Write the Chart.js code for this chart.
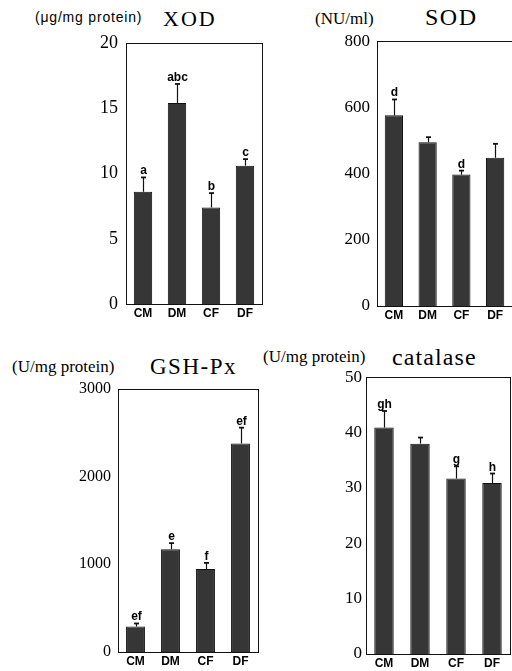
<!DOCTYPE html>
<html lang="en">
<head>
<meta charset="UTF-8">
<title>XOD, SOD, GSH-Px, catalase</title>
<script src="https://cdn.jsdelivr.net/npm/chart.js"></script>
<style>
  html, body { margin: 0; padding: 0; background: #fff; overflow: hidden; }
  body { position: relative; width: 512px; height: 671px; }
  canvas { position: absolute; }
  .lbl { position: absolute; white-space: nowrap; line-height: 1; color: #000; }
  .serif { font-family: "Liberation Serif", "DejaVu Serif", serif; }
  .sans { font-family: "Liberation Sans", Arial, sans-serif; }
</style>
</head>
<body>
  <!-- unit labels and panel titles -->
  <div class="lbl sans"  style="left:35px;top:10px;font-size:14px;letter-spacing:0.8px;">(μg/mg protein)</div>
  <div class="lbl serif" style="left:163px;top:8px;font-size:22px;letter-spacing:2px;">XOD</div>
  <div class="lbl serif" style="left:315px;top:10px;font-size:17px;">(NU/ml)</div>
  <div class="lbl serif" style="left:425px;top:5px;font-size:24px;letter-spacing:1.5px;">SOD</div>
  <div class="lbl serif" style="left:12px;top:358px;font-size:17px;">(U/mg protein)</div>
  <div class="lbl serif" style="left:150px;top:355px;font-size:23px;letter-spacing:1.5px;">GSH-Px</div>
  <div class="lbl serif" style="left:263px;top:348px;font-size:17px;">(U/mg protein)</div>
  <div class="lbl serif" style="left:392px;top:345px;font-size:24px;letter-spacing:1.1px;">catalase</div>

  <canvas id="c-xod"></canvas>
  <canvas id="c-sod"></canvas>
  <canvas id="c-gsh"></canvas>
  <canvas id="c-cat"></canvas>

<script>
  // data (mean, upper error, significance letters)
  const groups   = ['CM', 'DM', 'CF', 'DF'];

  const xodMean  = [8.6, 15.4, 7.4, 10.6];
  const xodErr   = [1.1, 1.45, 1.1, 0.5];
  const xodMarks = ['a', 'abc', 'b', 'c'];
  const xodTicks = [0, 5, 10, 15, 20];

  const sodMean  = [576, 495, 397, 448];
  const sodErr   = [48, 15, 12, 42];
  const sodMarks = ['d', '', 'd', ''];
  const sodTicks = [0, 200, 400, 600, 800];

  const gshMean  = [290, 1170, 945, 2375];
  const gshErr   = [35, 70, 70, 180];
  const gshMarks = ['ef', 'e', 'f', 'ef'];
  const gshTicks = [0, 1000, 2000, 3000];

  const catMean  = [40.9, 38.0, 31.7, 30.9];
  const catErr   = [3.0, 1.1, 2.2, 1.7];
  const catMarks = ['gh', '', 'g', 'h'];
  const catTicks = [0, 10, 20, 30, 40, 50];

  const Y_W = 44, PAD_T = 14, X_H = 18;

  // box, error bars and letters on top of the bars
  function extras(mean, err, marks) {
    return {
      id: 'extras',
      afterDatasetsDraw(chart) {
        const { ctx, chartArea: a, scales: { x, y } } = chart;
        ctx.save();
        ctx.strokeStyle = '#111';
        ctx.lineWidth = 1;
        ctx.strokeRect(Math.round(a.left) + 0.5, Math.round(a.top) + 0.5,
                       Math.round(a.right - a.left), Math.round(a.bottom - a.top));
        ctx.fillStyle = '#000';
        ctx.font = 'bold 12px "Liberation Sans", Arial, sans-serif';
        ctx.textAlign = 'center';
        ctx.textBaseline = 'alphabetic';
        mean.forEach((m, i) => {
          const cx = Math.round(x.getPixelForValue(i)) + 0.5;
          const y0 = y.getPixelForValue(m);
          const y1 = y.getPixelForValue(m + err[i]);
          ctx.lineWidth = 1.2;
          ctx.beginPath();
          ctx.moveTo(cx, y0);
          ctx.lineTo(cx, y1);
          ctx.stroke();
          ctx.lineWidth = 1.8;
          ctx.beginPath();
          ctx.moveTo(cx - 2.5, y1);
          ctx.lineTo(cx + 2.5, y1);
          ctx.stroke();
          if (marks[i]) ctx.fillText(marks[i], cx, y1 - 3);
        });
        ctx.restore();
      }
    };
  }

  function makePanel(p) {
    const cv = document.getElementById(p.id);
    cv.width  = p.right - p.left + Y_W + 2;
    cv.height = p.bottom - p.top + PAD_T + X_H;
    cv.style.left = (p.left - Y_W) + 'px';
    cv.style.top  = (p.top - PAD_T) + 'px';

    return new Chart(cv.getContext('2d'), {
      type: 'bar',
      data: {
        labels: groups,
        datasets: [{
          data: p.mean,
          backgroundColor: '#363636',
          borderColor: '#111',
          borderWidth: 1,
          categoryPercentage: 1,
          barPercentage: 0.54
        }]
      },
      options: {
        responsive: false,
        animation: false,
        layout: { padding: { top: PAD_T, left: 0, right: 2, bottom: 0 } },
        plugins: { legend: { display: false }, tooltip: { enabled: false } },
        scales: {
          x: {
            grid: { display: false, drawTicks: false },
            border: { display: false },
            ticks: {
              color: '#000', padding: 2,
              font: { family: '"Liberation Sans", Arial, sans-serif', size: 12, weight: 'bold' }
            },
            afterFit: s => { s.height = X_H; }
          },
          y: {
            min: p.ticks[0],
            max: p.ticks[p.ticks.length - 1],
            afterBuildTicks: s => { s.ticks = p.ticks.map(v => ({ value: v })); },
            grid: { display: false, drawTicks: false },
            border: { display: false },
            ticks: {
              color: '#000', padding: p.tickPad,
              callback: v => String(v),
              font: { family: '"Liberation Serif", "DejaVu Serif", serif', size: p.tickSize }
            },
            afterFit: s => { s.width = Y_W; }
          }
        }
      },
      plugins: [extras(p.mean, p.err, p.marks)]
    });
  }

  makePanel({ id: 'c-xod', left: 126, top: 38,  right: 262, bottom: 305,
              mean: xodMean, err: xodErr, marks: xodMarks, ticks: xodTicks, tickSize: 18, tickPad: 8 });
  makePanel({ id: 'c-sod', left: 377, top: 38,  right: 512, bottom: 306,
              mean: sodMean, err: sodErr, marks: sodMarks, ticks: sodTicks, tickSize: 17, tickPad: 7 });
  makePanel({ id: 'c-gsh', left: 118, top: 386, right: 258, bottom: 652,
              mean: gshMean, err: gshErr, marks: gshMarks, ticks: gshTicks, tickSize: 16, tickPad: 7 });
  makePanel({ id: 'c-cat', left: 366, top: 377, right: 510, bottom: 654,
              mean: catMean, err: catErr, marks: catMarks, ticks: catTicks, tickSize: 17, tickPad: 4 });
</script>
</body>
</html>
